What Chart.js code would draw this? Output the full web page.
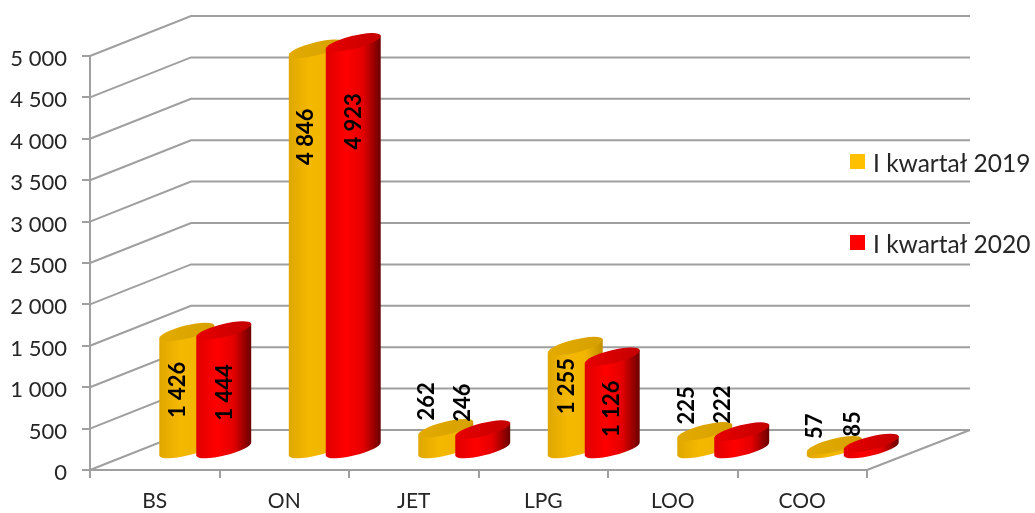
<!DOCTYPE html>
<html>
<head>
<meta charset="utf-8">
<style>
  body { margin: 0; background: #fff; }
  canvas { display: block; }
</style>
<script src="https://cdn.jsdelivr.net/npm/chart.js@4"></script>
</head>
<body>
<canvas id="chart" width="1035" height="513"></canvas>
<script>
const categories = ['BS', 'ON', 'JET', 'LPG', 'LOO', 'COO'];
const values2019 = [1426, 4846, 262, 1255, 225, 57];
const values2020 = [1444, 4923, 246, 1126, 222, 85];
const seriesNames = ['I kwartał 2019', 'I kwartał 2020'];

// hand placed data labels, [dx, dy] from the middle of each cylinder's cap
const labelShift2019 = [[-9, 58], [-10, 88], [-19, -27], [-8, 40], [-18, -26], [-19, -19]];
const labelShift2020 = [[1, 62], [1, 79], [-20, -27], [0, 52], [-19, -27], [-18, -19]];

const FONT = 'Lato, "Open Sans", sans-serif';
const GRID = '#9f9f9f';
const DEPTH_X = 101, DEPTH_Y = 40;   // how far the back wall sits from the front axes

const looks = [
  { stops: ['#dfa700', '#f5b800', '#f3b600', '#c08f00'], cap: ['#e3ab00', '#d6a000'], legend: '#ffc000', shift: labelShift2019 },
  { stops: ['#e00000', '#ff0000', '#e40000', '#6a0000'], cap: ['#e80000', '#c40000'], legend: '#ff0000', shift: labelShift2020 }
];

function gradient(ctx, x0, x1, colors) {
  const g = ctx.createLinearGradient(x0, 0, x1, 0);
  colors.forEach((c, i) => g.addColorStop(colors.length === 4 ? [0, 0.38, 0.68, 1][i] : i, c));
  return g;
}

// back wall, side wall and floor lines
const wallsPlugin = {
  id: 'walls',
  beforeDatasetsDraw(chart) {
    const { ctx, chartArea: area, scales } = chart;
    ctx.save();
    ctx.strokeStyle = GRID;
    ctx.lineWidth = 2;
    scales.y.ticks.forEach(t => {
      const y = scales.y.getPixelForValue(t.value);
      ctx.beginPath();
      ctx.moveTo(area.left, y);
      ctx.lineTo(area.left + DEPTH_X, y - DEPTH_Y);
      ctx.lineTo(area.right + DEPTH_X + 2, y - DEPTH_Y);
      ctx.stroke();
    });
    ctx.beginPath();
    ctx.moveTo(area.right, area.bottom);
    ctx.lineTo(area.right + DEPTH_X + 2, area.bottom - DEPTH_Y);
    ctx.stroke();
    ctx.restore();
  }
};

// cylinders are drawn over the (transparent) bars, half way into the depth
const cylinderPlugin = {
  id: 'cylinders',
  afterDatasetsDraw(chart) {
    const { ctx } = chart;
    chart.data.datasets.forEach((ds, i) => {
      const look = looks[i];
      chart.getDatasetMeta(i).data.forEach(bar => {
        const cx = bar.x + DEPTH_X / 2;
        const top = bar.y - DEPTH_Y / 2;
        const base = bar.base - DEPTH_Y / 2;
        const w = bar.width * 0.743;
        const s = 6.8;
        const rx = Math.hypot(w, s), ry = 6.5, rot = Math.atan2(-s, w);
        ctx.save();
        ctx.beginPath();
        ctx.ellipse(cx, base, rx, ry, rot, Math.PI, 0, true);
        ctx.lineTo(cx + w, top - s);
        ctx.lineTo(cx - w, top + s);
        ctx.closePath();
        ctx.fillStyle = gradient(ctx, cx - w, cx + w, look.stops);
        ctx.fill();
        ctx.beginPath();
        ctx.ellipse(cx, top, rx, ry, rot, 0, Math.PI * 2);
        ctx.fillStyle = gradient(ctx, cx - w, cx + w, look.cap);
        ctx.fill();
        ctx.restore();
      });
    });

    // data labels, rotated, on top of everything
    chart.data.datasets.forEach((ds, i) => {
      chart.getDatasetMeta(i).data.forEach((bar, j) => {
        const [dx, dy] = looks[i].shift[j];
        ctx.save();
        ctx.translate(bar.x + DEPTH_X / 2 + dx, bar.y - DEPTH_Y / 2 + dy);
        ctx.rotate(-Math.PI / 2);
        ctx.font = 'bold 22px ' + FONT;
        ctx.fillStyle = '#000';
        ctx.textAlign = 'center';
        ctx.textBaseline = 'middle';
        ctx.fillText(formatNumber(ds.data[j]), 0, 0);
        ctx.restore();
      });
    });

    // legend sits on the right with wide gaps
    const rows = [161, 242];
    chart.data.datasets.forEach((ds, i) => {
      ctx.save();
      ctx.fillStyle = looks[i].legend;
      ctx.fillRect(850, rows[i] - 7, 15, 15);
      ctx.font = '24.5px ' + FONT;
      ctx.fillStyle = '#262626';
      ctx.textBaseline = 'middle';
      ctx.fillText(ds.label, 873, rows[i] + 3);
      ctx.restore();
    });
  }
};

function formatNumber(v) {
  return String(v).replace(/\B(?=(\d{3})+$)/g, ' ');
}

new Chart(document.getElementById('chart'), {
  type: 'bar',
  data: {
    labels: categories,
    datasets: [
      { label: seriesNames[0], data: values2019, backgroundColor: 'transparent' },
      { label: seriesNames[1], data: values2020, backgroundColor: 'transparent' }
    ]
  },
  options: {
    responsive: false,
    animation: false,
    categoryPercentage: 0.571,
    barPercentage: 1,
    layout: { padding: { top: 56, right: 168, left: 0, bottom: 0 } },
    plugins: { legend: { display: false }, tooltip: { enabled: false } },
    scales: {
      x: {
        afterFit(scale) { scale.height = 43; },
        grid: { drawOnChartArea: false, color: GRID, lineWidth: 2, tickLength: 8, offset: true },
        border: { color: GRID, width: 2 },
        ticks: { color: '#262626', padding: 11, font: { family: FONT, size: 21 }, maxRotation: 0 }
      },
      y: {
        min: 0,
        max: 5000,
        afterFit(scale) { scale.width = 90; },
        grid: { drawOnChartArea: false, color: GRID, lineWidth: 2, tickLength: 8 },
        border: { color: GRID, width: 2 },
        ticks: {
          stepSize: 500,
          color: '#262626',
          padding: 15,
          labelOffset: 3,
          font: { family: FONT, size: 22 },
          callback: v => formatNumber(v)
        }
      }
    }
  },
  plugins: [wallsPlugin, cylinderPlugin]
});
</script>
</body>
</html>
